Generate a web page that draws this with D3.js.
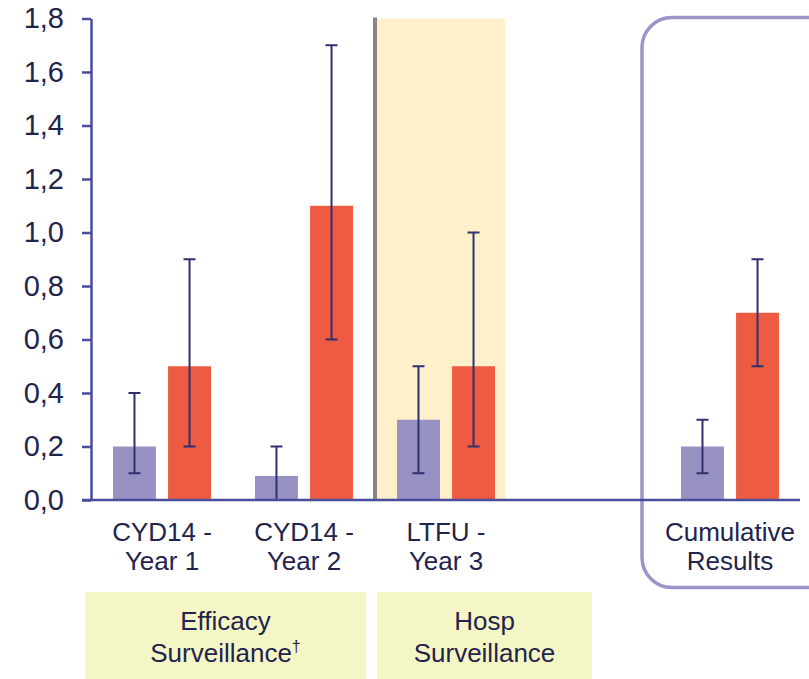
<!DOCTYPE html>
<html>
<head>
<meta charset="utf-8">
<script src="https://cdn.jsdelivr.net/npm/d3@7"></script>
<style>
  html, body { margin: 0; padding: 0; background: #ffffff; }
  svg { display: block; font-family: "Liberation Sans", Arial, sans-serif; }
</style>
</head>
<body>
<svg id="chart" width="809" height="679"></svg>
<script>
// slot 4 is an empty spacer between the study periods and the cumulative group
const categories = ["c1", "c2", "c3", "gap", "c4"];
const categoryLines = [["CYD14 -", "Year 1"], ["CYD14 -", "Year 2"], ["LTFU -", "Year 3"], [], ["Cumulative", "Results"]];
const seriesKeys = ["vaccine", "placebo"];
const vaccineValues = [0.2, 0.09, 0.3, null, 0.2];
const vaccineLow = [0.1, 0.0, 0.1, null, 0.1];
const vaccineHigh = [0.4, 0.2, 0.5, null, 0.3];
const placeboValues = [0.5, 1.1, 0.5, null, 0.7];
const placeboLow = [0.2, 0.6, 0.2, null, 0.5];
const placeboHigh = [0.9, 1.7, 1.0, null, 0.9];
const yTicks = [0, 0.2, 0.4, 0.6, 0.8, 1.0, 1.2, 1.4, 1.6, 1.8];
const periodBoxes = [
  { from: "c1", to: "c2", lines: ["Efficacy", "Surveillance"], sup: "†" },
  { from: "c3", to: "c3", lines: ["Hosp", "Surveillance"], sup: "" },
];

const COLORS = { vaccine: "#9891c4", placebo: "#ed5b42" };
const INK = "#22244c";
const AXIS = "#4a4d9c";

const svg = d3.select("#chart");
const margin = { top: 18.5, left: 91, bottom: 500, right: 801 };

const x = d3.scaleBand().domain(categories).range([margin.left, margin.right]).paddingInner(0).paddingOuter(0);
const xs = d3.scaleBand().domain(seriesKeys).range([22, 120]).paddingInner(0.22);
const y = d3.scaleLinear().domain([0, 1.8]).range([margin.bottom, margin.top]);

const rows = [];
categories.forEach((c, i) => {
  if (vaccineValues[i] !== null) rows.push({ cat: c, key: "vaccine", v: vaccineValues[i], lo: vaccineLow[i], hi: vaccineHigh[i] });
  if (placeboValues[i] !== null) rows.push({ cat: c, key: "placebo", v: placeboValues[i], lo: placeboLow[i], hi: placeboHigh[i] });
});

// hospital-phase shading and divider
const bandX0 = x("c3");
const bandX1 = x("c3") + x.bandwidth() - 12;
svg.append("rect")
  .attr("x", bandX0).attr("y", y(1.8))
  .attr("width", bandX1 - bandX0).attr("height", y(0) - y(1.8))
  .attr("fill", "#fdf0cb");
svg.append("line")
  .attr("x1", bandX0).attr("x2", bandX0)
  .attr("y1", y(1.8) - 1).attr("y2", y(0))
  .attr("stroke", "#858585").attr("stroke-width", 4);

// cumulative frame
const frameX = x("c4") - 17;
svg.append("rect")
  .attr("x", frameX).attr("y", y(1.8) - 1)
  .attr("width", 200).attr("height", 570)
  .attr("rx", 30).attr("ry", 30)
  .attr("fill", "none").attr("stroke", "#9b95c9").attr("stroke-width", 3.5);

// bars
svg.append("g").selectAll("rect.bar").data(rows).join("rect")
  .attr("class", "bar")
  .attr("x", (d) => x(d.cat) + xs(d.key))
  .attr("y", (d) => y(d.v))
  .attr("width", xs.bandwidth())
  .attr("height", (d) => y(0) - y(d.v))
  .attr("fill", (d) => COLORS[d.key]);

// error bars
const eb = svg.append("g").attr("stroke", "#2f3070").attr("stroke-width", 2);
const cx = (d) => x(d.cat) + xs(d.key) + xs.bandwidth() / 2;
eb.selectAll("line.stem").data(rows).join("line")
  .attr("x1", cx).attr("x2", cx)
  .attr("y1", (d) => y(d.lo)).attr("y2", (d) => y(d.hi));
eb.selectAll("line.capHi").data(rows).join("line")
  .attr("x1", (d) => cx(d) - 6).attr("x2", (d) => cx(d) + 6)
  .attr("y1", (d) => y(d.hi)).attr("y2", (d) => y(d.hi));
eb.selectAll("line.capLo").data(rows.filter((d) => d.lo > 0)).join("line")
  .attr("x1", (d) => cx(d) - 6).attr("x2", (d) => cx(d) + 6)
  .attr("y1", (d) => y(d.lo)).attr("y2", (d) => y(d.lo));

// y axis
const gy = svg.append("g").attr("transform", `translate(${margin.left},0)`)
  .call(d3.axisLeft(y).tickValues(yTicks).tickSize(9).tickSizeOuter(0).tickPadding(18)
    .tickFormat((v) => d3.format(".1f")(v).replace(".", ",")));
gy.select(".domain").attr("stroke", AXIS).attr("stroke-width", 2.5);
gy.selectAll(".tick line").attr("stroke", AXIS).attr("stroke-width", 2.5);
gy.selectAll(".tick text").attr("fill", INK).style("font-size", "29px")
  .style("font-family", "'Liberation Sans', Arial, sans-serif");

// x axis baseline
svg.append("line")
  .attr("x1", margin.left - 9).attr("x2", margin.right - 1)
  .attr("y1", y(0)).attr("y2", y(0))
  .attr("stroke", AXIS).attr("stroke-width", 2.5);

// category labels
const catLabels = svg.append("g").selectAll("text").data(categories).join("text")
  .attr("x", (c) => x(c) + x.bandwidth() / 2)
  .attr("y", 541)
  .attr("text-anchor", "middle")
  .attr("fill", INK)
  .style("font-size", "26px");
catLabels.each(function (c, i) {
  d3.select(this).selectAll("tspan").data(categoryLines[i]).join("tspan")
    .attr("x", x(c) + x.bandwidth() / 2)
    .attr("dy", (d, j) => (j === 0 ? 0 : 29))
    .text((d) => d);
});

// period boxes under the axis
const boxes = svg.append("g").selectAll("g").data(periodBoxes).join("g");
const bx0 = (b) => (b.from === "c3" ? x("c3") + 2 : x(b.from) - 6);
const bx1 = (b) => (b.from === b.to ? x(b.to) + x.bandwidth() + 75 : x(b.to) + x.bandwidth() - 9);
boxes.append("rect")
  .attr("x", bx0)
  .attr("y", 592)
  .attr("width", (b) => bx1(b) - bx0(b))
  .attr("height", 90)
  .attr("fill", "#f5f6c6");
boxes.append("text")
  .attr("text-anchor", "middle")
  .attr("fill", INK)
  .style("font-size", "26px")
  .each(function (b) {
    const mid = (bx0(b) + bx1(b)) / 2;
    const t = d3.select(this);
    t.append("tspan").attr("x", mid).attr("y", 630).text(b.lines[0]);
    t.append("tspan").attr("x", mid).attr("y", 662).text(b.lines[1]);
    if (b.sup) t.append("tspan").attr("dy", -10).style("font-size", "16px").text(b.sup);
  });
</script>
</body>
</html>
